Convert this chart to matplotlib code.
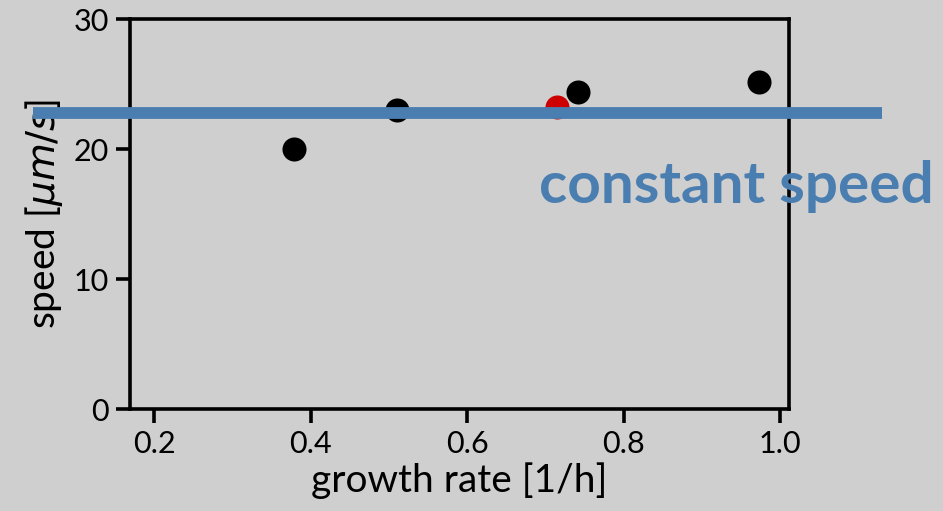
import matplotlib
matplotlib.use("Agg")
import matplotlib.pyplot as plt

# measured speeds vs growth rate
growth = [0.378, 0.51, 0.742, 0.973]
speed = [20.0, 23.0, 24.4, 25.15]
# highlighted condition
growth_red = [0.715]
speed_red = [23.2]
# constant-speed guide line
line_growth = [0.045, 1.13]
const_speed = 22.75

bg = "#cfcfcf"
blue = "#4a7eb0"

plt.rcParams["font.family"] = ["Lato", "DejaVu Sans"]

fig = plt.figure(figsize=(9.43, 5.11), dpi=100, facecolor=bg)
ax = fig.add_axes([0.1379, 0.1996, 0.6988, 0.7632])
ax.set_facecolor(bg)

ax.scatter(growth_red, speed_red, s=300, color="#cc0000", zorder=2, linewidths=0)
ax.scatter(growth, speed, s=300, color="black", zorder=3, linewidths=0)
ax.plot(line_growth, [const_speed, const_speed], color=blue, lw=8.5,
        solid_capstyle="butt", clip_on=False, zorder=4)

ax.set_xlim(0.169, 1.0115)
ax.set_ylim(0, 30)
ax.set_xticks([0.2, 0.4, 0.6, 0.8, 1.0])
ax.set_yticks([0, 10, 20, 30])

for s in ax.spines.values():
    s.set_linewidth(2.6)
ax.tick_params(width=2.6, length=10, labelsize=22, pad=5, colors="black")

ax.set_xlabel("growth rate [1/h]", fontsize=28, labelpad=3)
ax.set_ylabel(r"speed [$\mu m/s$]", fontsize=28, labelpad=6)

ax.text(1.196, 15.85, "constant speed", color=blue, fontsize=42,
        fontweight="bold", ha="right", va="baseline", zorder=5, clip_on=False)

fig.savefig("out.png", dpi=100, facecolor=bg)
